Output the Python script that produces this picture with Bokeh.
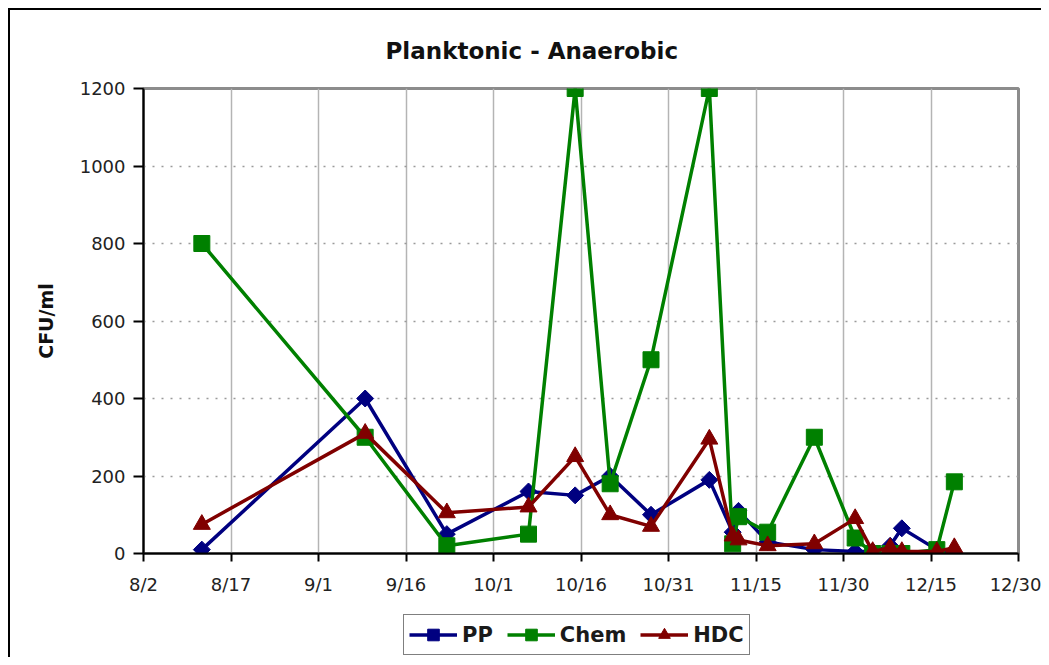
from datetime import datetime
from math import pi
from bokeh.plotting import figure
from bokeh.layouts import column
from bokeh.models import Range1d, FixedTicker, Legend, LegendItem
from bokeh.embed import file_html
from bokeh.resources import INLINE

YEAR = 2004

# sample dates (month/day) shared by the three series
dates = ["8/12", "9/9", "9/23", "10/7", "10/15", "10/21", "10/28", "11/7", "11/11",
         "11/12", "11/17", "11/25", "12/2", "12/5", "12/8", "12/10", "12/16", "12/19"]
pp = [10, 400, 50, 160, 150, 200, 100, 190, 55, 110, 30, 10, 5, 5, 20, 65, 10, 0]
chem = [800, 300, 20, 50, 1200, 180, 500, 1200, 25, 95, 55, 300, 40, 0, 0, 0, 10, 185]
hdc = [75, 310, 105, 120, 250, 100, 70, 295, 45, 35, 20, 25, 90, 5, 15, 5, 5, 15]

tick_labels = ["8/2", "8/17", "9/1", "9/16", "10/1", "10/16", "10/31",
               "11/15", "11/30", "12/15", "12/30"]
y_ticks = [0, 200, 400, 600, 800, 1000, 1200]

title_text = "Planktonic - Anaerobic"
y_label = "CFU/ml"
series_names = ["PP", "Chem", "HDC"]
colors = ["#000080", "#008000", "#800000"]
markers = ["square", "square", "triangle"]
marker_sizes = [12, 16, 17]
legend_marker_sizes = [11, 14, 15]
marker_angles = [pi / 4, 0.0, 0.0]

FONT = "DejaVu Sans"
EPOCH = datetime(1970, 1, 1)


def d(md):
    return datetime.strptime(f"{YEAR}/{md}", "%Y/%m/%d")


def ms(dt):
    return (dt - EPOCH).total_seconds() * 1000.0


x_dates = [d(s) for s in dates]
tick_dates = [d(s) for s in tick_labels]
tick_ms = [ms(t) for t in tick_dates]
series = [pp, chem, hdc]

# ---------------- main chart ----------------
p = figure(width=1031, height=600, x_axis_type="datetime",
           x_range=Range1d(tick_dates[0], tick_dates[-1]),
           y_range=Range1d(y_ticks[0], y_ticks[-1]),
           output_backend="svg", toolbar_location=None,
           min_border_left=133, min_border_right=23,
           min_border_top=78, min_border_bottom=57,
           title=title_text)
p.background_fill_color = "white"
p.border_fill_color = "white"
p.outline_line_color = "#8c8c8c"
p.outline_line_width = 3

# title
p.title.text_font = FONT
p.title.text_font_size = "23px"
p.title.text_font_style = "bold"
p.title.text_color = "#111111"
p.title.align = "left"
p.title.offset = 242
p.title.standoff = 50

# x axis
xt = FixedTicker(ticks=tick_ms)
p.xaxis.ticker = xt
p.xgrid.ticker = xt
p.xaxis.major_label_overrides = {t: lab for t, lab in zip(tick_ms, tick_labels)}
# y axis
yt = FixedTicker(ticks=y_ticks)
p.yaxis.ticker = yt
p.ygrid.ticker = yt

for ax in (p.xaxis, p.yaxis):
    ax.axis_line_color = "black"
    ax.axis_line_width = 2
    ax.major_tick_line_color = "black"
    ax.major_tick_line_width = 2
    ax.major_tick_in = 0
    ax.minor_tick_line_color = None
    ax.major_label_text_font = FONT
    ax.major_label_text_font_size = "18px"
    ax.major_label_text_color = "#222222"

p.xaxis.major_tick_out = 8
p.xaxis.major_label_standoff = 12
p.yaxis.major_tick_out = 10
p.yaxis.major_label_standoff = 8

p.yaxis.axis_label = y_label
p.yaxis.axis_label_text_font = FONT
p.yaxis.axis_label_text_font_size = "19px"
p.yaxis.axis_label_text_font_style = "bold"
p.yaxis.axis_label_text_color = "#111111"
p.yaxis.axis_label_standoff = 20

# grids
p.xgrid.grid_line_color = "#b4b4b4"
p.xgrid.grid_line_width = 1.5
p.ygrid.grid_line_color = "#9a9a9a"
p.ygrid.grid_line_width = 1.5
p.ygrid.grid_line_dash = "2 7"

for vals, col, mk, sz, ang in zip(series, colors, markers, marker_sizes, marker_angles):
    p.line(x_dates, vals, line_color=col, line_width=3.5)
    p.scatter(x_dates, vals, marker=mk, size=sz, angle=ang,
              fill_color=col, line_color=col)

# ---------------- legend strip below the chart ----------------
# (same series drawn into a strip whose ranges exclude them: only the legend shows)
pl = figure(width=1031, height=47, x_range=Range1d(0, 1), y_range=Range1d(0, 1),
            output_backend="svg", toolbar_location=None,
            x_axis_location=None, y_axis_location=None, min_border=0)
pl.outline_line_color = None
pl.background_fill_color = "white"
pl.border_fill_color = "white"
pl.xgrid.visible = False
pl.ygrid.visible = False

items = []
for name, vals, col, mk, sz, ang in zip(series_names, series, colors, markers,
                                        legend_marker_sizes, marker_angles):
    ln = pl.line(x_dates, vals, line_color=col, line_width=3.5)
    sc = pl.scatter(x_dates, vals, marker=mk, size=sz, angle=ang,
                    fill_color=col, line_color=col)
    items.append(LegendItem(label=name, renderers=[ln, sc]))

legend = Legend(items=items, location=(260, 2), orientation="horizontal")
legend.border_line_color = "black"
legend.border_line_width = 1.5
legend.background_fill_color = "white"
legend.background_fill_alpha = 1.0
legend.label_text_font = FONT
legend.label_text_font_size = "21px"
legend.label_text_font_style = "bold"
legend.label_text_color = "#1a1a1a"
legend.glyph_width = 48
legend.glyph_height = 29
legend.label_height = 29
legend.label_standoff = 5
legend.spacing = 14
legend.padding = 5
legend.margin = 0
pl.add_layout(legend)

layout = column(p, pl, spacing=0, margin=(8, 0, 0, 8))
layout.styles = {"border-left": "2px solid black", "border-top": "2px solid black"}

open("out.html", "w").write(file_html(layout, INLINE))
